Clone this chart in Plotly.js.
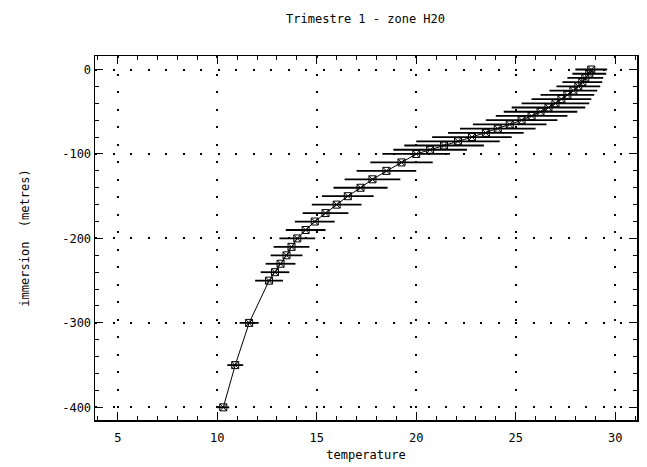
<!DOCTYPE html>
<html>
<head>
<meta charset="utf-8">
<script src="https://cdn.plot.ly/plotly-3.0.1.min.js"></script>
<style>html,body{margin:0;padding:0;background:#fff;}#chart{width:647px;height:467px;}</style>
</head>
<body>
<div id="chart"></div>
<script>
const depth = [0,-5,-10,-15,-20,-25,-30,-35,-40,-45,-50,-55,-60,-65,-70,-75,-80,-85,-90,-95,-100,
  -110,-120,-130,-140,-150,-160,-170,-180,-190,-200,-210,-220,-230,-240,-250,-300,-350,-400];
const temperature = [28.8,28.7,28.5,28.35,28.15,27.9,27.6,27.3,27.0,26.65,26.25,25.8,25.3,24.7,24.1,23.5,22.8,22.1,21.4,20.7,20.0,
  19.26,18.5,17.8,17.2,16.56,16.0,15.44,14.9,14.44,14.02,13.73,13.48,13.18,12.9,12.6,11.6,10.9,10.3];
const spread = [0.8,0.85,0.9,1.0,1.1,1.2,1.35,1.5,1.7,1.85,1.85,1.8,1.8,1.85,1.9,1.9,2.0,2.1,2.0,1.85,1.7,
  1.57,1.5,1.4,1.36,1.3,1.25,1.15,1.0,1.0,0.9,0.9,0.8,0.75,0.72,0.7,0.48,0.4,0.3];
const xTicks = [5,10,15,20,25,30];
const yTicks = [0,-100,-200,-300,-400];

const font = 'DejaVu Sans Mono, Liberation Mono, monospace';

const trace = {
  x: temperature, y: depth, type: 'scatter', mode: 'lines+markers',
  line: {color: '#000', width: 1},
  marker: {symbol: 'square-x-open', size: 7, color: '#000', line: {width: 1, color: '#000'}},
  error_x: {type: 'data', array: spread, visible: true, color: '#000', thickness: 1.8, width: 0},
  hoverinfo: 'none'
};

const axisCommon = {
  showline: true, linecolor: '#000', linewidth: 1.5, mirror: 'allticks',
  ticks: 'inside', ticklen: 8, tickcolor: '#000', tickwidth: 1,
  showgrid: true, gridcolor: '#000', gridwidth: 2, griddash: '2px,15.5px',
  zeroline: false,
  tickfont: {family: font, size: 12, color: '#000'}
};

const layout = {
  width: 647, height: 467,
  margin: {l: 95, r: 10, t: 56, b: 47},
  paper_bgcolor: '#fff', plot_bgcolor: '#fff',
  showlegend: false,
  title: {text: 'Trimestre 1 - zone H20', font: {family: font, size: 12, color: '#000'}, x: 0.565, xanchor: 'center', y: 0.96, yanchor: 'middle'},
  xaxis: Object.assign({}, axisCommon, {
    range: [3.85, 31.1], tickvals: xTicks, ticktext: xTicks.map(String),
    ticklabelstandoff: 6,
    minor: {dtick: 1, tick0: 0, ticklen: 4, tickcolor: '#000', ticks: 'inside', showgrid: false},
    title: {text: 'temperature', font: {family: font, size: 12, color: '#000'}, standoff: 6}
  }),
  yaxis: Object.assign({}, axisCommon, {
    range: [-415, 16], tickvals: yTicks, ticktext: yTicks.map(String),
    minor: {dtick: 20, tick0: 0, ticklen: 4, tickcolor: '#000', ticks: 'inside', showgrid: false},
    title: {text: 'immersion  (metres)', font: {family: font, size: 12, color: '#000'}, standoff: 30}
  })
};

Plotly.newPlot('chart', [trace], layout, {staticPlot: true, displayModeBar: false});
</script>
</body>
</html>
